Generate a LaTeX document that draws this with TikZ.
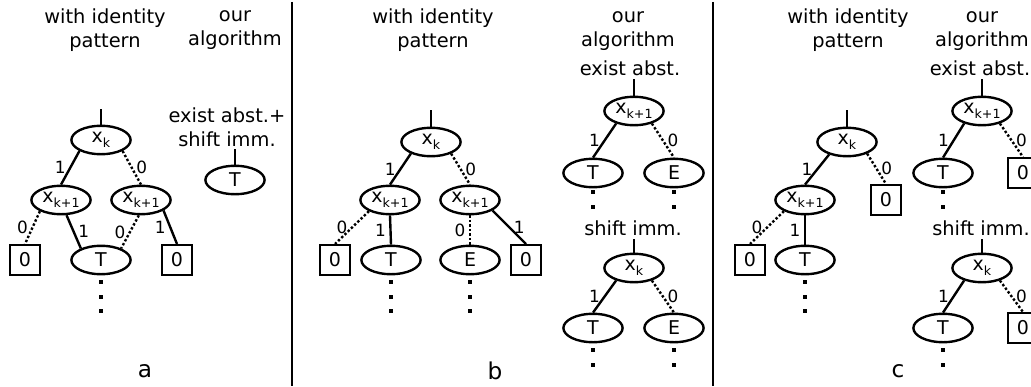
\documentclass[tikz,border=0pt]{standalone}
\usepackage{fontspec}
\setmainfont{DejaVu Sans}
\usetikzlibrary{shapes.geometric}
\newcommand{\idx}[1]{\raisebox{-0.5ex}{\fontsize{9}{9}\selectfont #1}}

\begin{document}
\begin{tikzpicture}[x=0.025cm, y=-0.025cm,
  head/.style={align=center, font=\fontsize{13.8}{17}\selectfont, inner sep=0pt},
  tag/.style={font=\fontsize{16.5}{16.5}\selectfont, inner sep=0pt},
  bdd/.style={draw, ellipse, line width=1.7pt, minimum width=1.48cm,
              minimum height=0.71cm, inner sep=0pt, font=\fontsize{13.5}{13.5}\selectfont},
  term/.style={draw, line width=1.7pt, minimum size=0.74cm, inner sep=0pt,
               font=\fontsize{13.5}{13.5}\selectfont},
  hi/.style={line width=1.7pt},
  lo/.style={line width=1.7pt, dash pattern=on 1.7pt off 1.5pt},
  lbl/.style={font=\fontsize{12}{12}\selectfont, inner sep=2.5pt},
  sep/.style={line width=1.8pt},
]
\useasboundingbox (0,0) rectangle (1031,387);
\clip (0,0) rectangle (1031,387);

\draw[sep] (292,2) -- (292,386);
\draw[sep] (713,2) -- (713,386);

% panel a
\node[head] (aid)  at (105,30)  {with identity\\pattern};
\node[head] (aour) at (235,30)  {our\\algorithm};
\node[head] (aalg) at (227,127) {exist abst.+\\shift imm.};
\node[bdd]  (axk)  at (101,140) {x\idx{k}};
\node[bdd]  (al)   at (61,200)  {x\idx{k+1}};
\node[bdd]  (ar)   at (141,200) {x\idx{k+1}};
\node[term] (az1)  at (25,260)  {0};
\node[bdd]  (aT)   at (101,260) {T};
\node[term] (az2)  at (177,260) {0};
\node[bdd]  (aRT)  at (235,180) {T};
\node[tag]  (alab) at (145,371) {a};

\draw[hi] (axk.north) -- ++(0,-16);
\draw[hi] (aRT.north) -- ++(0,-16);
\draw[hi] (axk.207) -- node[lbl,left]{1} (al.north);
\draw[lo] (axk.333) -- node[lbl,right]{0} (ar.north);
\draw[lo] (al.208) -- node[lbl,left]{0} (az1.north);
\draw[hi] (al.290) -- node[lbl,right]{1} (aT.150);
\draw[lo] (ar.262) -- node[lbl,left]{0} (aT.30);
\draw[hi] (ar.335) -- node[lbl,left]{1} (az2.north);

% panel b
\node[head] (bid)  at (433,30)  {with identity\\pattern};
\node[head] (bour) at (628,31)  {our\\algorithm};
\node[head] (bex)  at (630,68)  {exist abst.};
\node[head] (bsh)  at (633,228) {shift imm.};
\node[bdd]  (bxk)  at (431,142) {x\idx{k}};
\node[bdd]  (bl)   at (390,200) {x\idx{k+1}};
\node[bdd]  (br)   at (470,200) {x\idx{k+1}};
\node[term] (bz1)  at (335,260) {0};
\node[bdd]  (bT)   at (391,260) {T};
\node[bdd]  (bE)   at (470,260) {E};
\node[term] (bz2)  at (526,260) {0};
\node[bdd]  (bou)  at (634,111) {x\idx{k+1}};
\node[bdd]  (bT1)  at (593,173) {T};
\node[bdd]  (bE1)  at (674,173) {E};
\node[bdd]  (bsx)  at (634,268) {x\idx{k}};
\node[bdd]  (bT2)  at (593,328) {T};
\node[bdd]  (bE2)  at (674,328) {E};
\node[tag]  (blab) at (495,371) {b};

\draw[hi] (bxk.north) -- ++(0,-17);
\draw[hi] (bou.north) -- ++(0,-17);
\draw[hi] (bsx.north) -- ++(0,-14);
\draw[hi] (bxk.210) -- node[lbl,left]{1} (bl.north);
\draw[lo] (bxk.330) -- node[lbl,right]{0} (br.north);
\draw[lo] (bl.208) -- node[lbl,left]{0} (bz1.north);
\draw[hi] (bl.south) -- node[lbl,left]{1} (bT.north);
\draw[lo] (br.south) -- node[lbl,left]{0} (bE.north);
\draw[hi] (br.335) -- node[lbl,right]{1} (bz2.north);
\draw[hi] (bou.215) -- node[lbl,left]{1} (bT1.north);
\draw[lo] (bou.325) -- node[lbl,right]{0} (bE1.north);
\draw[hi] (bsx.215) -- node[lbl,left]{1} (bT2.north);
\draw[lo] (bsx.325) -- node[lbl,right]{0} (bE2.north);

% panel c
\node[head] (cid)  at (848,30)  {with identity\\pattern};
\node[head] (cour) at (982,31)  {our\\algorithm};
\node[head] (cex)  at (980,68)  {exist abst.};
\node[head] (csh)  at (981,228) {shift imm.};
\node[bdd]  (cxk)  at (847,142) {x\idx{k}};
\node[term] (cz0)  at (886,200) {0};
\node[bdd]  (cl)   at (805,200) {x\idx{k+1}};
\node[term] (cz1)  at (750,260) {0};
\node[bdd]  (cT)   at (805,260) {T};
\node[bdd]  (cou)  at (982,111) {x\idx{k+1}};
\node[bdd]  (cT1)  at (943,173) {T};
\node[term] (cz2)  at (1023,173) {0};
\node[bdd]  (csx)  at (982,268) {x\idx{k}};
\node[bdd]  (cT2)  at (943,328) {T};
\node[term] (cz3)  at (1023,328) {0};
\node[tag]  (clab) at (898,371) {c};

\draw[hi] (cxk.north) -- ++(0,-17);
\draw[hi] (cou.north) -- ++(0,-17);
\draw[hi] (csx.north) -- ++(0,-14);
\draw[hi] (cxk.215) -- node[lbl,left]{1} (cl.north);
\draw[lo] (cxk.330) -- node[lbl,right]{0} (cz0.north);
\draw[lo] (cl.208) -- node[lbl,left]{0} (cz1.north);
\draw[hi] (cl.south) -- node[lbl,left]{1} (cT.north);
\draw[hi] (cou.215) -- node[lbl,left]{1} (cT1.north);
\draw[lo] (cou.325) -- node[lbl,right]{0} (cz2.north);
\draw[hi] (csx.215) -- node[lbl,left]{1} (cT2.north);
\draw[lo] (csx.325) -- node[lbl,right]{0} (cz3.north);

\foreach \n in {aT,bT,bE,cT}
  \foreach \d in {22,37,51}
    \fill (\n.center) ++(-1.7,\d-1.7) rectangle ++(3.4,3.4);
\foreach \n in {bT1,bE1,cT1}
  \foreach \d in {19,34}
    \fill (\n.center) ++(-1.7,\d-1.7) rectangle ++(3.4,3.4);
\foreach \n in {bT2,bE2,cT2}
  \foreach \d in {22,37}
    \fill (\n.center) ++(-1.7,\d-1.7) rectangle ++(3.4,3.4);
\end{tikzpicture}
\end{document}
